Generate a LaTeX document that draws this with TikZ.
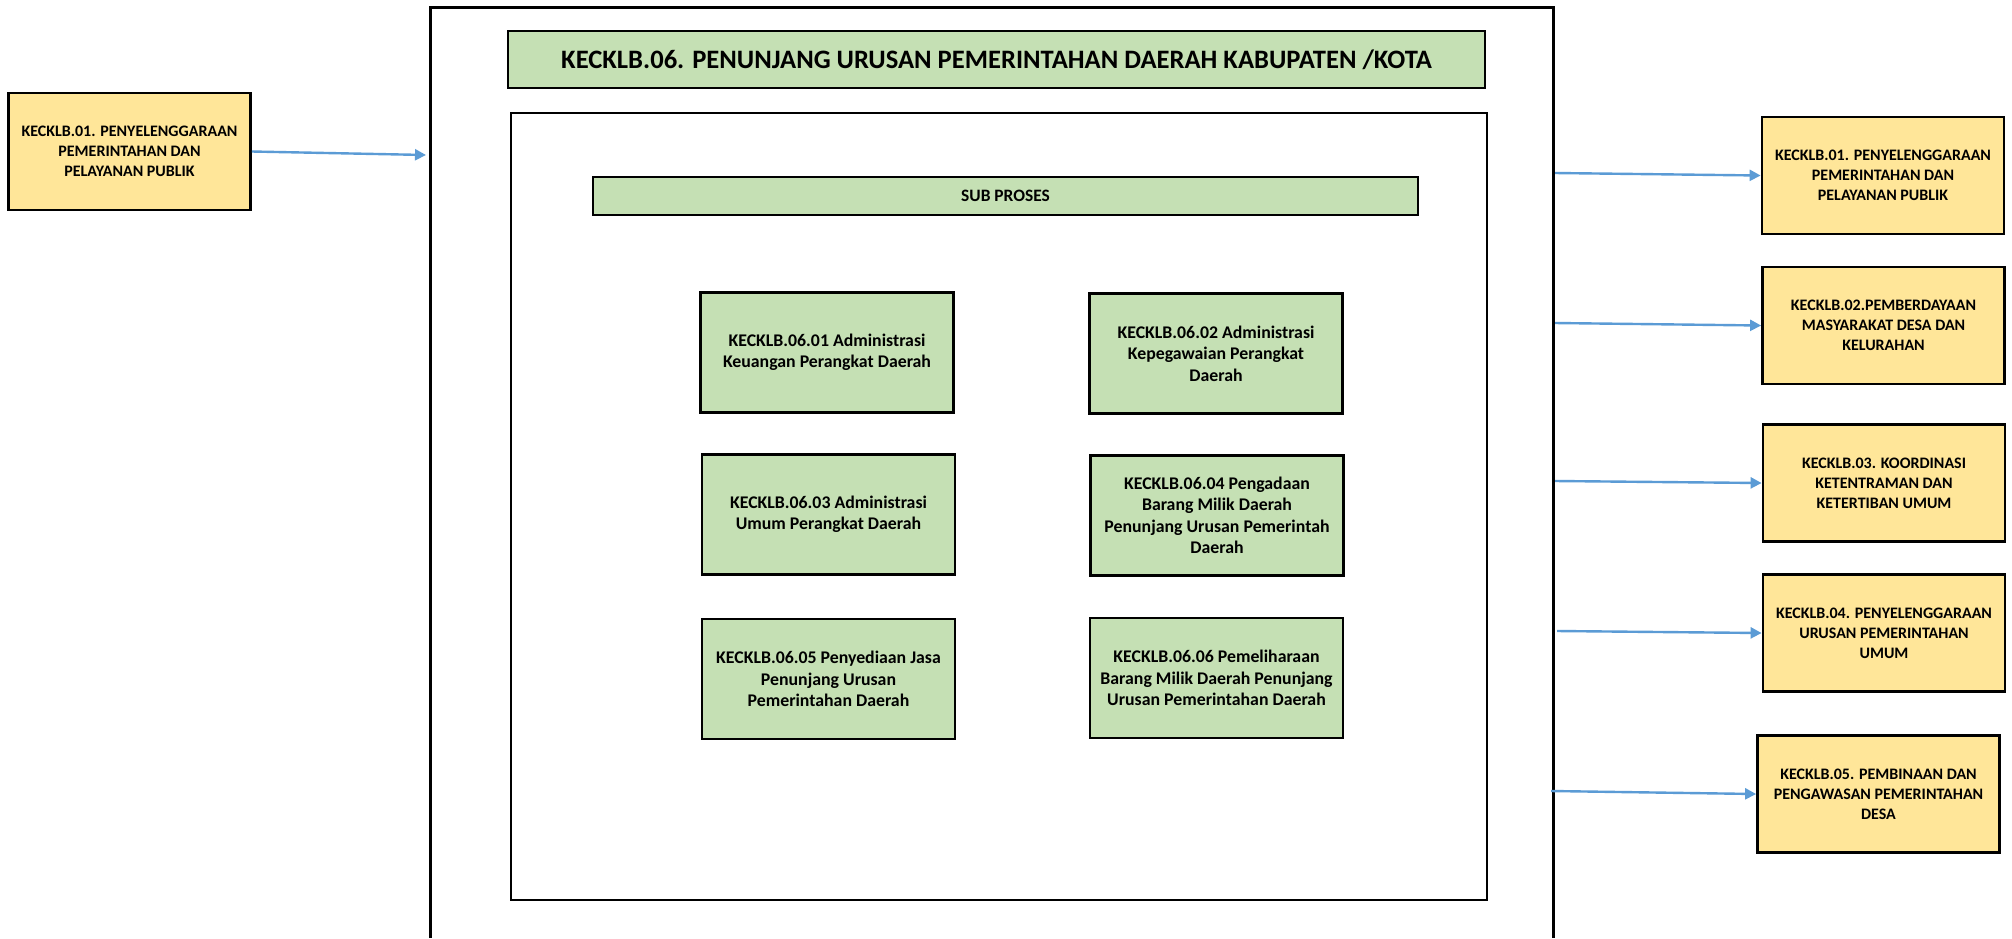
\documentclass[tikz,border=0pt]{standalone}
\usepackage{fontspec}
\setmainfont{Carlito}
\usetikzlibrary{arrows.meta}

\definecolor{boxgreen}{RGB}{197,224,180}
\definecolor{boxyellow}{RGB}{255,230,153}
\definecolor{arrowblue}{RGB}{91,155,213}

\begin{document}
\begin{tikzpicture}[x=0.5pt,y=-0.5pt,
  greenbox/.style={draw, line width=1.4pt, fill=boxgreen, minimum width=126.5pt, minimum height=60pt, inner sep=0pt, align=center, font=\bfseries\fontsize{8.9}{10.75}\selectfont},
  yellowbox/.style={draw, line width=1.4pt, fill=boxyellow, minimum width=121pt, minimum height=58.5pt, inner sep=0pt, align=center, font=\bfseries\fontsize{8}{10}\selectfont},
  flowarrow/.style={draw=arrowblue, line width=1.2pt, -{Triangle[length=5.5pt,width=5.5pt]}}]
\useasboundingbox (0,0) rectangle (2012,938);

% Outer frame (open at the bottom)
\draw [line width=1.5pt] (430,938) -- (430,7) -- (1553,7) -- (1553,938);

% Title
\node (title) [draw, line width=1.4pt, fill=boxgreen, minimum width=488.5pt, minimum height=28.5pt, inner sep=0pt, font=\bfseries\fontsize{13.3}{15}\selectfont] at (996.5,59.5) {KECKLB.06. PENUNJANG URUSAN PEMERINTAHAN DAERAH KABUPATEN /KOTA};

% Inner frame
\node (inner) [draw, line width=1.4pt, minimum width=488pt, minimum height=393.5pt, inner sep=0pt] at (999,506.5) {};

% Sub proses bar
\node (sub) [draw, line width=1.4pt, fill=boxgreen, minimum width=412.5pt, minimum height=19pt, inner sep=0pt, font=\bfseries\fontsize{8.7}{10}\selectfont] at (1005.5,196) {SUB PROSES};

% Sub process boxes
\node (g1) [greenbox] at (827,352.5) {KECKLB.06.01 Administrasi\\Keuangan Perangkat Daerah};
\node (g2) [greenbox] at (1216,353.5) {KECKLB.06.02 Administrasi\\Kepegawaian Perangkat\\Daerah};
\node (g3) [greenbox] at (828.5,514.5) {KECKLB.06.03 Administrasi\\Umum Perangkat Daerah};
\node (g4) [greenbox] at (1217,515.5) {KECKLB.06.04 Pengadaan\\Barang Milik Daerah\\Penunjang Urusan Pemerintah\\Daerah};
\node (g5) [greenbox] at (828.5,679) {KECKLB.06.05 Penyediaan Jasa\\Penunjang Urusan\\Pemerintahan Daerah};
\node (g6) [greenbox] at (1216.5,678) {KECKLB.06.06 Pemeliharaan\\Barang Milik Daerah Penunjang\\Urusan Pemerintahan Daerah};

% Input
\node (lb) [yellowbox] at (129.5,151.5) {KECKLB.01. PENYELENGGARAAN\\PEMERINTAHAN DAN\\PELAYANAN PUBLIK};

% Outputs
\node (r1) [yellowbox] at (1883,175.5) {KECKLB.01. PENYELENGGARAAN\\PEMERINTAHAN DAN\\PELAYANAN PUBLIK};
\node (r2) [yellowbox] at (1883.5,325.5) {KECKLB.02.PEMBERDAYAAN\\MASYARAKAT DESA DAN\\KELURAHAN};
\node (r3) [yellowbox] at (1884,483) {KECKLB.03. KOORDINASI\\KETENTRAMAN DAN\\KETERTIBAN UMUM};
\node (r4) [yellowbox] at (1884,633) {KECKLB.04. PENYELENGGARAAN\\URUSAN PEMERINTAHAN\\UMUM};
\node (r5) [yellowbox] at (1878.5,794) {KECKLB.05. PEMBINAAN DAN\\PENGAWASAN PEMERINTAHAN\\DESA};

% Connection points on the frame
\coordinate (in1) at (426,155);
\coordinate (out1) at (1555,173);
\coordinate (out2) at (1555,323);
\coordinate (out3) at (1555,481);
\coordinate (out4) at (1557,631);
\coordinate (out5) at (1551,791);

% Connections
\draw [flowarrow] (lb.east) -- (in1);
\draw [flowarrow] (out1) -- (r1.west);
\draw [flowarrow] (out2) -- (r2.west);
\draw [flowarrow] (out3) -- (r3.west);
\draw [flowarrow] (out4) -- (r4.west);
\draw [flowarrow] (out5) -- (r5.west);

\end{tikzpicture}
\end{document}
